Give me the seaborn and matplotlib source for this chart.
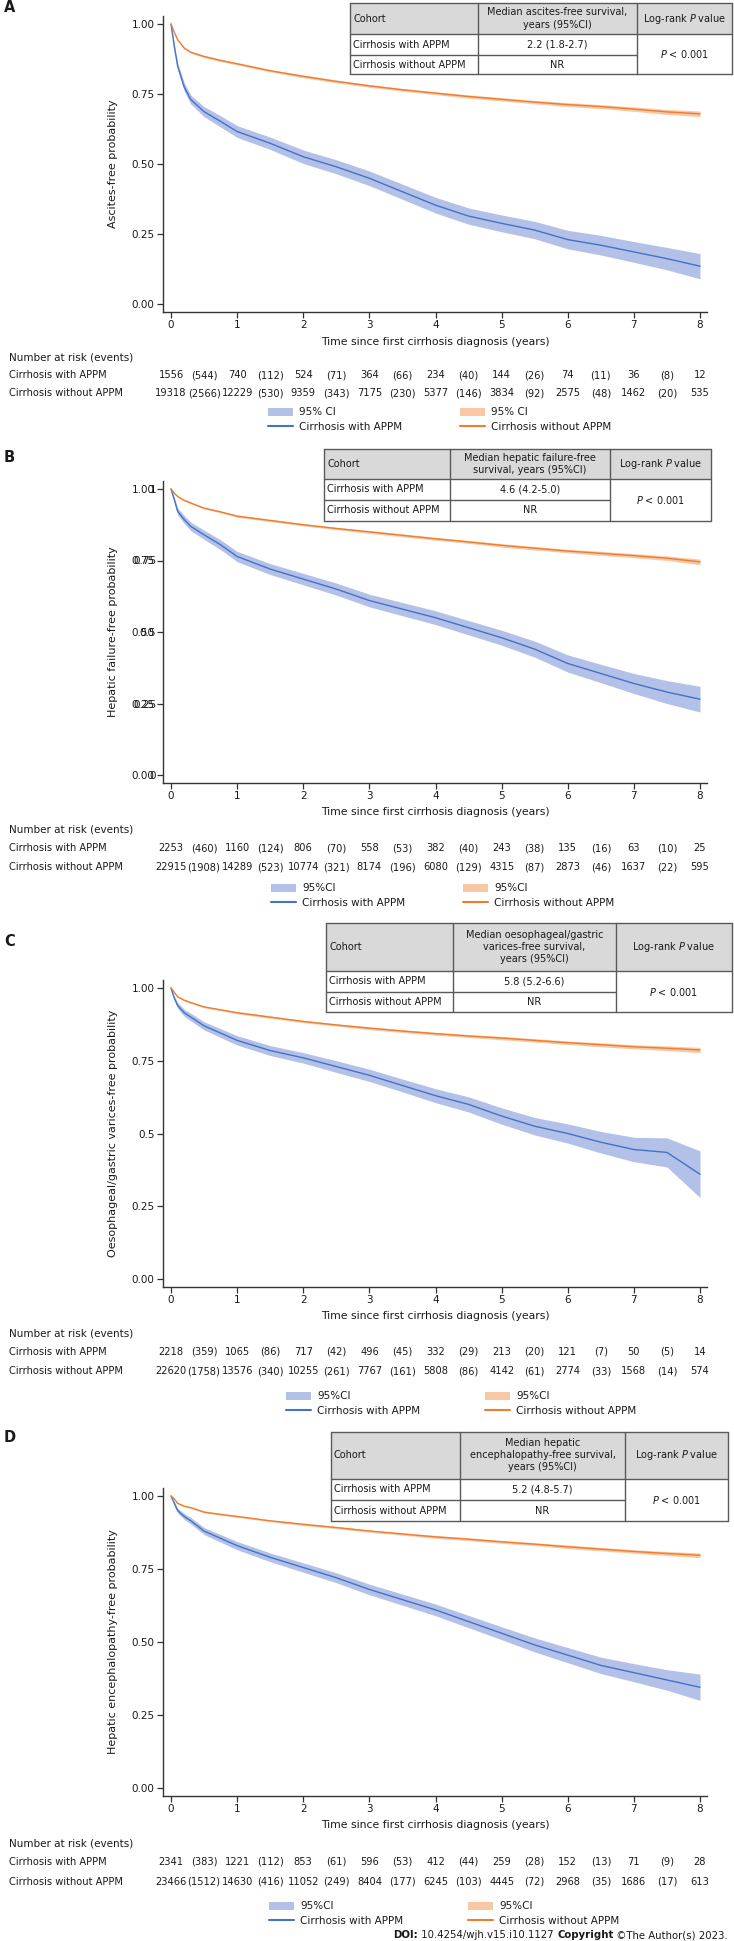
import numpy as np
import pandas as pd
import matplotlib
matplotlib.use('Agg')
import matplotlib.pyplot as plt
from matplotlib.patches import Rectangle, Patch
from matplotlib.lines import Line2D
from matplotlib.transforms import blended_transform_factory
import seaborn as sns

W, H = 734, 1941

# time points (years) at which the curves were read
t_years = [0, 0.05, 0.1, 0.2, 0.3, 0.5, 0.75, 1, 1.5, 2, 2.5, 3, 3.5, 4, 4.5, 5, 5.5, 6, 6.5, 7, 7.5, 8]

# Panel A - ascites
a_with = [1.0, 0.92, 0.85, 0.775, 0.73, 0.687, 0.652, 0.616, 0.574, 0.526, 0.49, 0.449, 0.401, 0.353, 0.314, 0.288, 0.264, 0.23, 0.21, 0.186, 0.162, 0.135]
a_with_ci = [0, 0.01, 0.012, 0.015, 0.016, 0.018, 0.02, 0.021, 0.022, 0.024, 0.025, 0.026, 0.027, 0.028, 0.029, 0.03, 0.031, 0.033, 0.035, 0.037, 0.04, 0.045]
a_without = [1.0, 0.97, 0.944, 0.914, 0.899, 0.884, 0.87, 0.858, 0.833, 0.813, 0.795, 0.779, 0.765, 0.753, 0.741, 0.731, 0.721, 0.712, 0.705, 0.696, 0.686, 0.679]
a_without_ci = [0, 0.002, 0.003, 0.003, 0.003, 0.004, 0.004, 0.004, 0.004, 0.005, 0.005, 0.005, 0.005, 0.005, 0.006, 0.006, 0.006, 0.007, 0.007, 0.008, 0.009, 0.01]

# Panel B - hepatic failure
b_with = [1.0, 0.963, 0.922, 0.893, 0.869, 0.84, 0.805, 0.764, 0.72, 0.685, 0.65, 0.61, 0.58, 0.55, 0.515, 0.48, 0.44, 0.39, 0.355, 0.32, 0.29, 0.265]
b_with_ci = [0, 0.008, 0.012, 0.014, 0.015, 0.016, 0.017, 0.018, 0.019, 0.02, 0.021, 0.022, 0.023, 0.024, 0.025, 0.026, 0.028, 0.03, 0.032, 0.035, 0.04, 0.045]
b_without = [1.0, 0.985, 0.974, 0.96, 0.951, 0.933, 0.92, 0.905, 0.89, 0.875, 0.862, 0.85, 0.838, 0.826, 0.815, 0.803, 0.793, 0.783, 0.775, 0.767, 0.758, 0.745]
b_without_ci = [0, 0.002, 0.002, 0.003, 0.003, 0.003, 0.003, 0.004, 0.004, 0.004, 0.004, 0.005, 0.005, 0.005, 0.005, 0.006, 0.006, 0.006, 0.007, 0.007, 0.008, 0.01]

# Panel C - oesophageal/gastric varices
c_with = [1.0, 0.965, 0.94, 0.915, 0.9, 0.87, 0.845, 0.82, 0.785, 0.76, 0.73, 0.7, 0.665, 0.63, 0.6, 0.56, 0.525, 0.5, 0.47, 0.445, 0.435, 0.36]
c_with_ci = [0, 0.008, 0.01, 0.012, 0.013, 0.014, 0.015, 0.016, 0.017, 0.018, 0.02, 0.021, 0.022, 0.024, 0.026, 0.028, 0.03, 0.033, 0.037, 0.042, 0.05, 0.08]
c_without = [1.0, 0.985, 0.97, 0.958, 0.95, 0.935, 0.925, 0.915, 0.9, 0.885, 0.873, 0.862, 0.852, 0.843, 0.835, 0.828, 0.82, 0.812, 0.805, 0.798, 0.793, 0.787]
c_without_ci = [0, 0.002, 0.002, 0.003, 0.003, 0.003, 0.003, 0.004, 0.004, 0.004, 0.004, 0.005, 0.005, 0.005, 0.005, 0.006, 0.006, 0.006, 0.007, 0.007, 0.008, 0.009]

# Panel D - hepatic encephalopathy
d_with = [1.0, 0.975, 0.95, 0.93, 0.915, 0.88, 0.855, 0.83, 0.79, 0.755, 0.72, 0.68, 0.645, 0.61, 0.57, 0.53, 0.49, 0.455, 0.42, 0.395, 0.37, 0.345]
d_with_ci = [0, 0.006, 0.008, 0.01, 0.011, 0.012, 0.013, 0.014, 0.015, 0.016, 0.017, 0.018, 0.019, 0.02, 0.021, 0.022, 0.024, 0.026, 0.028, 0.031, 0.035, 0.045]
d_without = [1.0, 0.99, 0.975, 0.965, 0.96, 0.945, 0.937, 0.93, 0.915, 0.903, 0.892, 0.88, 0.87, 0.86, 0.852, 0.843, 0.835, 0.826, 0.818, 0.81, 0.803, 0.797]
d_without_ci = [0, 0.001, 0.002, 0.002, 0.002, 0.003, 0.003, 0.003, 0.003, 0.004, 0.004, 0.004, 0.004, 0.005, 0.005, 0.005, 0.005, 0.006, 0.006, 0.006, 0.007, 0.008]

# numbers at risk (yearly) and events (between years)
a_n_with = [1556, 740, 524, 364, 234, 144, 74, 36, 12]
a_ev_with = [544, 112, 71, 66, 40, 26, 11, 8]
a_n_without = [19318, 12229, 9359, 7175, 5377, 3834, 2575, 1462, 535]
a_ev_without = [2566, 530, 343, 230, 146, 92, 48, 20]

b_n_with = [2253, 1160, 806, 558, 382, 243, 135, 63, 25]
b_ev_with = [460, 124, 70, 53, 40, 38, 16, 10]
b_n_without = [22915, 14289, 10774, 8174, 6080, 4315, 2873, 1637, 595]
b_ev_without = [1908, 523, 321, 196, 129, 87, 46, 22]

c_n_with = [2218, 1065, 717, 496, 332, 213, 121, 50, 14]
c_ev_with = [359, 86, 42, 45, 29, 20, 7, 5]
c_n_without = [22620, 13576, 10255, 7767, 5808, 4142, 2774, 1568, 574]
c_ev_without = [1758, 340, 261, 161, 86, 61, 33, 14]

d_n_with = [2341, 1221, 853, 596, 412, 259, 152, 71, 28]
d_ev_with = [383, 112, 61, 53, 44, 28, 13, 9]
d_n_without = [23466, 14630, 11052, 8404, 6245, 4445, 2968, 1686, 613]
d_ev_without = [1512, 416, 249, 177, 103, 72, 35, 17]

# summary tables
cohorts = ['Cirrhosis with APPM', 'Cirrhosis without APPM']
a_median = ['2.2 (1.8-2.7)', 'NR']
b_median = ['4.6 (4.2-5.0)', 'NR']
c_median = ['5.8 (5.2-6.6)', 'NR']
d_median = ['5.2 (4.8-5.7)', 'NR']
logrank = '$P$ < 0.001'

c_blue, c_orange = '#4472C4', '#ED7D31'
f_blue, f_orange = '#B3C0E8', '#F8C8A4'
txt = '#1a1a1a'

sns.set_theme(style='ticks')
plt.rcParams['font.family'] = ['DejaVu Sans']
plt.rcParams['mathtext.fontset'] = 'dejavusans'

fig = plt.figure(figsize=(W / 100, H / 100), dpi=100)


def fx(x):
    return x / W


def fy(y):
    return 1 - y / H


panels = [
    dict(letter='A', ly=8, tx=[350, 478, 637, 732], ty=[3, 34, 55, 74],
         head='Median ascites-free survival,\nyears (95%CI)',
         top=16, y1=24, y0=304, bot=312, xl=342, nar=357, rows=[375, 393], leg=[411, 428], lx=[268, 460],
         ylabel='Ascites-free probability', ci='95% CI',
         s=[a_with, a_without], ci_w=[a_with_ci, a_without_ci],
         n=[a_n_with, a_n_without], ev=[a_ev_with, a_ev_without], med=a_median,
         yt=['1.00', '0.75', '0.50', '0.25', '0.00']),
    dict(letter='B', ly=457, tx=[324, 450, 610, 711], ty=[449, 479, 500, 521],
         head='Median hepatic failure-free\nsurvival, years (95%CI)',
         top=481, y1=489, y0=775, bot=783, xl=812, nar=830, rows=[848, 867], leg=[887, 904], lx=[271, 463],
         ylabel='Hepatic failure-free probability', ci='95%CI',
         s=[b_with, b_without], ci_w=[b_with_ci, b_without_ci],
         n=[b_n_with, b_n_without], ev=[b_ev_with, b_ev_without], med=b_median,
         yt=['1.00', '0.75', '0.50', '0.25', '0.00'], yt2=['1', '0.75', '0.5', '0.25', '0']),
    dict(letter='C', ly=942, tx=[326, 453, 616, 732], ty=[923, 971, 992, 1012],
         head='Median oesophageal/gastric\nvarices-free survival,\nyears (95%CI)',
         top=980, y1=988, y0=1279, bot=1287, xl=1316, nar=1334, rows=[1352, 1371], leg=[1395, 1412], lx=[286, 485],
         ylabel='Oesophageal/gastric varices-free probability', ci='95%CI',
         s=[c_with, c_without], ci_w=[c_with_ci, c_without_ci],
         n=[c_n_with, c_n_without], ev=[c_ev_with, c_ev_without], med=c_median,
         yt=['1.00', '0.75', '0.5', '0.25', '0.00']),
    dict(letter='D', ly=1437, tx=[331, 460, 625, 728], ty=[1432, 1479, 1500, 1521],
         head='Median hepatic\nencephalopathy-free survival,\nyears (95%CI)',
         top=1488, y1=1496, y0=1788, bot=1796, xl=1825, nar=1843, rows=[1862, 1882], leg=[1905, 1922], lx=[269, 468],
         ylabel='Hepatic encephalopathy-free probability', ci='95%CI',
         s=[d_with, d_without], ci_w=[d_with_ci, d_without_ci],
         n=[d_n_with, d_n_without], ev=[d_ev_with, d_ev_without], med=d_median,
         yt=['1.00', '0.75', '0.50', '0.25', '0.00']),
]

x_left, x_right, x0px, x8px = 163, 707, 171, 700
ppy = (x8px - x0px) / 8.0

for p in panels:
    ax = fig.add_axes([fx(x_left), fy(p['bot']), (x_right - x_left) / W, (p['bot'] - p['top']) / H])
    span = p['y0'] - p['y1']
    ax.set_ylim(-(p['bot'] - p['y0']) / span, 1 + (p['y1'] - p['top']) / span)
    ax.set_xlim(-(x0px - x_left) / ppy, (x_right - x0px) / ppy)

    for s, w, lc, fc in zip(p['s'], p['ci_w'], [c_blue, c_orange], [f_blue, f_orange]):
        s = np.array(s)
        w = np.array(w)
        ax.fill_between(t_years, s - w, s + w, color=fc, lw=0, zorder=1)
        df = pd.DataFrame({'t': t_years, 'S': s})
        sns.lineplot(data=df, x='t', y='S', ax=ax, color=lc, lw=1.0, estimator=None, sort=False, zorder=3)

    ax.set_xticks(range(9))
    ax.set_yticks([1, 0.75, 0.5, 0.25, 0])
    ax.set_yticklabels(p['yt'])
    ax.set_xlabel('')
    ax.set_ylabel('')
    ax.tick_params(axis='both', labelsize=7.5, length=4, width=0.9, pad=2, color='#333333', labelcolor=txt)
    sns.despine(ax=ax)
    for sp in ['left', 'bottom']:
        ax.spines[sp].set_color('#333333')
        ax.spines[sp].set_linewidth(1.0)
    ax.patch.set_alpha(0)

    # panel B shows a second, overlapping set of y tick labels
    if 'yt2' in p:
        tr = blended_transform_factory(ax.transAxes, ax.transData)
        xo = -(4 + 2 * 100 / 72) / (x_right - x_left)
        for v, lab in zip([1, 0.75, 0.5, 0.25, 0], p['yt2']):
            ax.text(xo, v, lab, transform=tr, ha='right', va='center_baseline', fontsize=7.5, color=txt)

    fig.text(fx(113), fy((p['y1'] + p['y0']) / 2), p['ylabel'], rotation=90, ha='center', va='center',
             fontsize=8, color=txt)
    fig.text(fx((x0px + x8px) / 2), fy(p['xl']), 'Time since first cirrhosis diagnosis (years)',
             ha='center', va='center', fontsize=7.8, color=txt)
    fig.text(fx(4), fy(p['ly']), p['letter'], ha='left', va='center', fontsize=10.5, fontweight='bold', color=txt)

    # risk table
    fig.text(fx(9), fy(p['nar']), 'Number at risk (events)', ha='left', va='center', fontsize=7.5, color=txt)
    tr = blended_transform_factory(ax.transData, fig.transFigure)
    for ry, lab, n, ev in zip(p['rows'], cohorts, p['n'], p['ev']):
        fig.text(fx(9), fy(ry), lab, ha='left', va='center', fontsize=7.1, color=txt)
        for i, v in enumerate(n):
            ax.text(i, fy(ry), str(v), transform=tr, ha='center', va='center', fontsize=7.1, color=txt, clip_on=False)
        for i, v in enumerate(ev):
            ax.text(i + 0.5, fy(ry), '(%d)' % v, transform=tr, ha='center', va='center', fontsize=7.1, color=txt,
                    clip_on=False)

    # legends
    mid = (p['leg'][0] + p['leg'][1]) / 2
    for lx, lc, fc, lab in zip(p['lx'], [c_blue, c_orange], [f_blue, f_orange], cohorts):
        handles = [Patch(facecolor=fc, edgecolor='none'), Line2D([], [], color=lc, lw=1.5)]
        fig.legend(handles, [p['ci'], lab], loc='center left', bbox_to_anchor=(fx(lx), fy(mid)),
                   bbox_transform=fig.transFigure, frameon=False, borderpad=0, borderaxespad=0,
                   handlelength=2.4, handleheight=0.8, handletextpad=0.6, labelspacing=0.45,
                   fontsize=7.5, labelcolor=txt)

    # summary table
    xs, ys = p['tx'], p['ty']
    edge = '#5a5a5a'
    fig.add_artist(Rectangle((fx(xs[0]), fy(ys[1])), (xs[3] - xs[0]) / W, (ys[1] - ys[0]) / H,
                             transform=fig.transFigure, facecolor='#d9d9d9', edgecolor='none', zorder=5))
    fig.add_artist(Rectangle((fx(xs[0]), fy(ys[3])), (xs[3] - xs[0]) / W, (ys[3] - ys[1]) / H,
                             transform=fig.transFigure, facecolor='white', edgecolor='none', zorder=5))
    seg = [([xs[0], xs[3]], [ys[0], ys[0]]), ([xs[0], xs[3]], [ys[1], ys[1]]), ([xs[0], xs[3]], [ys[3], ys[3]]),
           ([xs[0], xs[2]], [ys[2], ys[2]])]
    for xv in xs:
        seg.append(([xv, xv], [ys[0], ys[3]]))
    for sx, sy in seg:
        fig.add_artist(Line2D([fx(v) for v in sx], [fy(v) for v in sy], transform=fig.transFigure,
                              color=edge, lw=1.0, zorder=6))
    hy = (ys[0] + ys[1]) / 2
    fig.text(fx(xs[0] + 3), fy(hy), 'Cohort', ha='left', va='center', fontsize=7, color=txt, zorder=7)
    fig.text(fx((xs[1] + xs[2]) / 2), fy(hy), p['head'], ha='center', va='center', fontsize=7, color=txt,
             linespacing=1.25, zorder=7)
    fig.text(fx((xs[2] + xs[3]) / 2), fy(hy), 'Log-rank $P$ value', ha='center', va='center', fontsize=7,
             color=txt, zorder=7)
    for k in range(2):
        ry = (ys[1 + k] + ys[2 + k]) / 2
        fig.text(fx(xs[0] + 3), fy(ry), cohorts[k], ha='left', va='center', fontsize=7, color=txt, zorder=7)
        fig.text(fx((xs[1] + xs[2]) / 2), fy(ry), p['med'][k], ha='center', va='center', fontsize=7,
                 color=txt, zorder=7)
    fig.text(fx((xs[2] + xs[3]) / 2), fy((ys[1] + ys[3]) / 2), logrank, ha='center', va='center', fontsize=7,
             color=txt, zorder=7)

# footer, right-aligned near the right edge
last_ax = fig.axes[-1]
parts = [('DOI:', 'bold'), (' 10.4254/wjh.v15.i10.1127 ', 'normal'), ('Copyright', 'bold'),
         (' \u00a9The Author(s) 2023.', 'normal')]
first = fig.text(fx(372), fy(1935), parts[0][0], fontweight=parts[0][1], fontsize=7.3, ha='left',
                 va='center', color=txt)
prev = first
for s, fw in parts[1:]:
    prev = last_ax.annotate(s, xy=(1, 0.5), xycoords=prev, ha='left', va='center', fontsize=7.3,
                            fontweight=fw, color=txt, annotation_clip=False)
fig.canvas.draw()
right = prev.get_window_extent(fig.canvas.get_renderer()).x1
first.set_x(first.get_position()[0] + (728 - right) / W)

fig.savefig('out.png', dpi=100)
